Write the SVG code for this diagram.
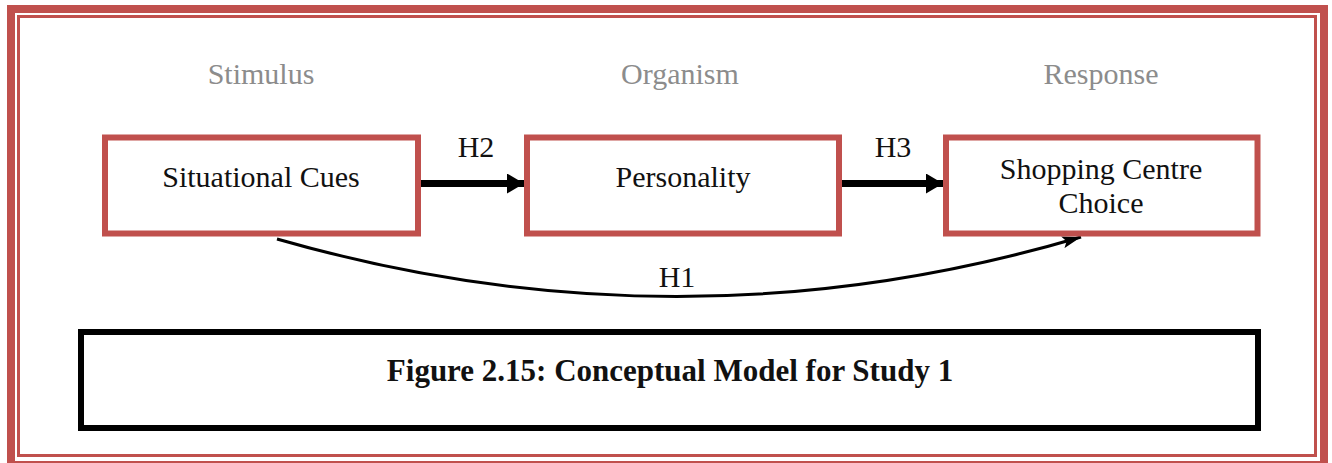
<svg xmlns="http://www.w3.org/2000/svg" width="1332" height="463" viewBox="0 0 1332 463">
  <style>
    .frame { fill: none; stroke: #c0504d; }
    .node rect { fill: #ffffff; stroke: #c0504d; stroke-width: 6; }
    .label { font-family: "Liberation Serif", "Times New Roman", serif; font-size: 30px; fill: #111111; text-anchor: middle; }
    .stage { font-family: "Liberation Serif", "Times New Roman", serif; font-size: 30px; fill: #8c8c8c; text-anchor: middle; }
    .caption { font-family: "Liberation Serif", "Times New Roman", serif; font-size: 31px; font-weight: bold; fill: #111111; text-anchor: middle; }
    .straight { stroke: #000000; stroke-width: 7; fill: none; }
    .curve { stroke: #000000; stroke-width: 3; fill: none; }
  </style>
  <defs>
    <marker id="headBig" markerUnits="userSpaceOnUse" markerWidth="18" markerHeight="20" refX="17" refY="10" orient="auto">
      <path d="M0,0 L17,10 L0,20 Z" fill="#000000"/>
    </marker>
    <marker id="headSmall" markerUnits="userSpaceOnUse" markerWidth="20" markerHeight="12" refX="19" refY="6" orient="auto">
      <path d="M0,0 L19,6 L0,12 L4,6 Z" fill="#000000"/>
    </marker>
  </defs>

  <rect width="1332" height="463" fill="#ffffff"/>

  <!-- page frame: thick outer band plus thin inner rule -->
  <rect class="frame" x="11" y="9" width="1313" height="456" stroke-width="8"/>
  <rect class="frame" x="18.5" y="16.5" width="1297" height="439" stroke-width="3"/>

  <!-- stage headings -->
  <text class="stage" x="261" y="84">Stimulus</text>
  <text class="stage" x="680" y="84">Organism</text>
  <text class="stage" x="1101" y="84">Response</text>

  <g id="connectors">
    <line class="straight" x1="421" y1="183.5" x2="524" y2="183.5" marker-end="url(#headBig)"/>
    <line class="straight" x1="842" y1="183.5" x2="943" y2="183.5" marker-end="url(#headBig)"/>
    <path class="curve" d="M277,239 Q681,355 1081,237" marker-end="url(#headSmall)"/>
    <text class="label" x="476" y="157">H2</text>
    <text class="label" x="893" y="157">H3</text>
    <text class="label" x="677" y="287">H1</text>
  </g>

  <g id="situational-cues" class="node">
    <rect x="105" y="137.5" width="313" height="96"/>
    <text class="label" x="261" y="187">Situational Cues</text>
  </g>

  <g id="personality" class="node">
    <rect x="527" y="137.5" width="312" height="96"/>
    <text class="label" x="683" y="187">Personality</text>
  </g>

  <g id="shopping-centre-choice" class="node">
    <rect x="946" y="137.5" width="311.5" height="96"/>
    <text class="label" x="1101" y="179">Shopping Centre</text>
    <text class="label" x="1101" y="213">Choice</text>
  </g>

  <g id="figure-caption">
    <rect x="81" y="332" width="1177" height="96" fill="#ffffff" stroke="#000000" stroke-width="6"/>
    <text class="caption" x="670" y="381">Figure 2.15: Conceptual Model for Study 1</text>
  </g>
</svg>
